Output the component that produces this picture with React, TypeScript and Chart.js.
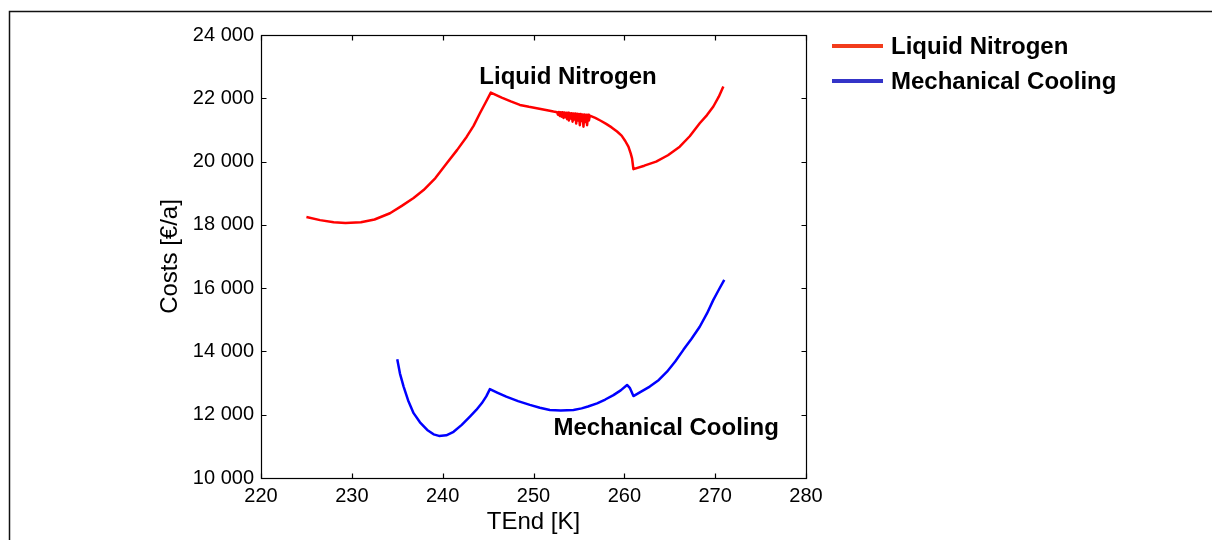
import React, { useEffect, useRef } from "react";
import { Chart, registerables } from "chart.js";

Chart.register(...registerables);

// ---- data ----
const nitrogenTemp = [
  225.0, 226.5, 228.0, 229.3, 231.0, 232.5, 234.2, 235.5, 236.8, 237.9, 239.2, 240.45,
  241.6, 242.65, 243.4, 244.1, 244.7, 245.3, 246.5, 247.5, 248.5, 249.5, 250.5, 251.5,
  252.2,
  252.6, 252.7, 252.8, 252.9, 253.0, 253.1, 253.2, 253.3, 253.4, 253.5, 253.6, 253.7,
  253.8, 253.9, 254.0, 254.1, 254.2, 254.3, 254.4, 254.5, 254.6, 254.7, 254.8, 254.9,
  255.0, 255.1, 255.2, 255.3, 255.4, 255.5, 255.6, 255.7, 255.8, 255.9, 256.0, 256.1,
  256.2,
  256.8, 257.4, 258.0, 258.6, 259.2, 259.7, 260.1, 260.45, 260.7, 260.85, 261.0,
  262.2, 263.5, 264.8, 266.1, 267.2, 268.3, 269.1, 269.8, 270.4, 270.9,
];
const nitrogenCost = [
  18250, 18150, 18080, 18060, 18080, 18170, 18366, 18600, 18850, 19100, 19480, 19946,
  20370, 20787, 21130, 21527, 21850, 22180, 22020, 21900, 21790, 21730, 21680, 21620,
  21580,
  21560, 21480, 21570, 21440, 21560, 21420, 21560, 21380, 21550, 21400, 21540, 21340,
  21540, 21300, 21530, 21360, 21530, 21260, 21520, 21330, 21520, 21200, 21510, 21300,
  21500, 21150, 21500, 21280, 21490, 21100, 21490, 21250, 21480, 21150, 21480, 21300,
  21450,
  21380, 21290, 21190, 21080, 20950, 20820, 20650, 20470, 20260, 20100, 19760,
  19870, 20000, 20200, 20470, 20800, 21210, 21470, 21740, 22050, 22370,
];
const coolingTemp = [
  235.0, 235.3, 235.7, 236.2, 236.8, 237.5, 238.3, 239.0, 239.6, 240.4, 241.2, 242.1,
  243.0, 243.7, 244.3, 244.8, 245.2, 246.0, 247.0, 248.3, 249.6, 250.7, 251.8, 253.0,
  254.4, 255.3, 256.0, 257.0, 257.9, 258.8, 259.6, 260.3, 260.6, 261.0, 261.8, 262.8,
  263.8, 264.7, 265.6, 266.5, 267.4, 268.3, 269.1, 269.8, 270.4, 271.0,
];
const coolingCost = [
  13750, 13300, 12890, 12450, 12050, 11760, 11520, 11380, 11330, 11350, 11460, 11680,
  11940, 12150, 12360, 12580, 12810, 12700, 12570, 12430, 12310, 12220, 12150, 12130,
  12150, 12200, 12260, 12360, 12480, 12620, 12770, 12940, 12850, 12590, 12720, 12890,
  13100, 13360, 13680, 14050, 14400, 14780, 15200, 15630, 15950, 16260,
];
const xTicks = [220, 230, 240, 250, 260, 270, 280];
const yTicks = [10000, 12000, 14000, 16000, 18000, 20000, 22000, 24000];
const seriesNames = ["Liquid Nitrogen", "Mechanical Cooling"];
const xTitle = "TEnd [K]";
const yTitle = "Costs [€/a]";
// in-plot curve labels (data coordinates: temperature, cost)
const labelTemp = [253.8, 264.6];
const labelCost = [22674, 11580];

const FONT = "'Liberation Sans', Arial, Helvetica, sans-serif";
const LINE_RED = "#ff0000";
const LINE_BLUE = "#0000ff";
const LEG_RED = "#f23c1c";
const LEG_BLUE = "#3434c8";

function fmt(v: number): string {
  const t = Math.floor(v / 1000);
  const r = Math.round(v % 1000);
  return `${t} ${String(r).padStart(3, "0")}`;
}

const framePlugin = {
  id: "frameAndLabels",
  afterDraw(chart: any) {
    const { ctx, chartArea, scales } = chart;
    const { left, top, right, bottom } = chartArea;
    const x = scales.x;
    const y = scales.y;
    ctx.save();

    // outer figure frame
    ctx.strokeStyle = "#111";
    ctx.lineWidth = 1.5;
    ctx.beginPath();
    ctx.moveTo(9.5, 540);
    ctx.lineTo(9.5, 11.5);
    ctx.lineTo(1212, 11.5);
    ctx.stroke();

    // plot box
    const L = Math.round(left) + 0.5;
    const R = Math.round(right) + 0.5;
    const T = Math.round(top) + 0.5;
    const B = Math.round(bottom) + 0.5;
    ctx.strokeStyle = "#000";
    ctx.lineWidth = 1.2;
    ctx.strokeRect(L, T, R - L, B - T);

    // inward tick marks on all four sides
    const tl = 5;
    ctx.beginPath();
    xTicks.forEach((v) => {
      const px = Math.round(x.getPixelForValue(v)) + 0.5;
      ctx.moveTo(px, B);
      ctx.lineTo(px, B - tl);
      ctx.moveTo(px, T);
      ctx.lineTo(px, T + tl);
    });
    yTicks.forEach((v) => {
      const py = Math.round(y.getPixelForValue(v)) + 0.5;
      ctx.moveTo(L, py);
      ctx.lineTo(L + tl, py);
      ctx.moveTo(R, py);
      ctx.lineTo(R - tl, py);
    });
    ctx.stroke();

    // curve labels
    ctx.fillStyle = "#000";
    ctx.font = `bold 24px ${FONT}`;
    ctx.textAlign = "center";
    ctx.textBaseline = "middle";
    seriesNames.forEach((name, i) => {
      ctx.fillText(name, x.getPixelForValue(labelTemp[i]), y.getPixelForValue(labelCost[i]));
    });

    // legend
    const legColors = [LEG_RED, LEG_BLUE];
    const legY = [46, 81];
    ctx.textAlign = "left";
    seriesNames.forEach((name, i) => {
      ctx.strokeStyle = legColors[i];
      ctx.lineWidth = 4;
      ctx.beginPath();
      ctx.moveTo(832, legY[i]);
      ctx.lineTo(883, legY[i]);
      ctx.stroke();
      ctx.fillStyle = "#000";
      ctx.fillText(name, 891, legY[i] + 1);
    });

    ctx.restore();
  },
};

export default function App() {
  const canvasRef = useRef<HTMLCanvasElement | null>(null);

  useEffect(() => {
    const canvas = canvasRef.current;
    if (!canvas) return;
    const chart = new Chart(canvas, {
      type: "line",
      data: {
        datasets: [
          {
            label: seriesNames[0],
            data: nitrogenTemp.map((t, i) => ({ x: t, y: nitrogenCost[i] })),
            borderColor: LINE_RED,
            backgroundColor: LINE_RED,
            borderWidth: 2.5,
            borderJoinStyle: "round",
            pointRadius: 0,
            tension: 0,
            fill: false,
          },
          {
            label: seriesNames[1],
            data: coolingTemp.map((t, i) => ({ x: t, y: coolingCost[i] })),
            borderColor: LINE_BLUE,
            backgroundColor: LINE_BLUE,
            borderWidth: 2.5,
            borderJoinStyle: "round",
            pointRadius: 0,
            tension: 0,
            fill: false,
          },
        ],
      },
      options: {
        animation: false,
        responsive: false,
        maintainAspectRatio: false,
        layout: { padding: { left: 156, top: 35, right: 406, bottom: 0 } },
        plugins: {
          legend: { display: false },
          tooltip: { enabled: false },
        },
        scales: {
          x: {
            type: "linear",
            min: 220,
            max: 280,
            grid: { display: false, drawTicks: false },
            border: { display: false },
            afterBuildTicks: (s: any) => {
              s.ticks = xTicks.map((v) => ({ value: v }));
            },
            afterFit: (s: any) => {
              s.height = 62;
            },
            ticks: {
              color: "#000",
              font: { family: FONT, size: 20 },
              padding: 6,
              maxRotation: 0,
              autoSkip: false,
              callback: (v: any) => String(v),
            },
            title: {
              display: true,
              text: xTitle,
              color: "#000",
              font: { family: FONT, size: 24 },
              padding: { top: 0, bottom: 3 },
            },
          },
          y: {
            type: "linear",
            min: 10000,
            max: 24000,
            grid: { display: false, drawTicks: false },
            border: { display: false },
            afterBuildTicks: (s: any) => {
              s.ticks = yTicks.map((v) => ({ value: v }));
            },
            afterFit: (s: any) => {
              s.width = 105;
            },
            ticks: {
              color: "#000",
              font: { family: FONT, size: 20 },
              padding: 7,
              autoSkip: false,
              callback: (v: any) => fmt(Number(v)),
            },
            title: {
              display: true,
              text: yTitle,
              color: "#000",
              font: { family: FONT, size: 24 },
              padding: { top: 0, bottom: 0 },
            },
          },
        },
      },
      plugins: [framePlugin],
    });
    return () => chart.destroy();
  }, []);

  return (
    <div style={{ position: "fixed", left: 0, top: 0, width: 1212, height: 540, background: "#fff" }}>
      <canvas ref={canvasRef} width={1212} height={540} style={{ display: "block", width: 1212, height: 540 }} />
    </div>
  );
}
